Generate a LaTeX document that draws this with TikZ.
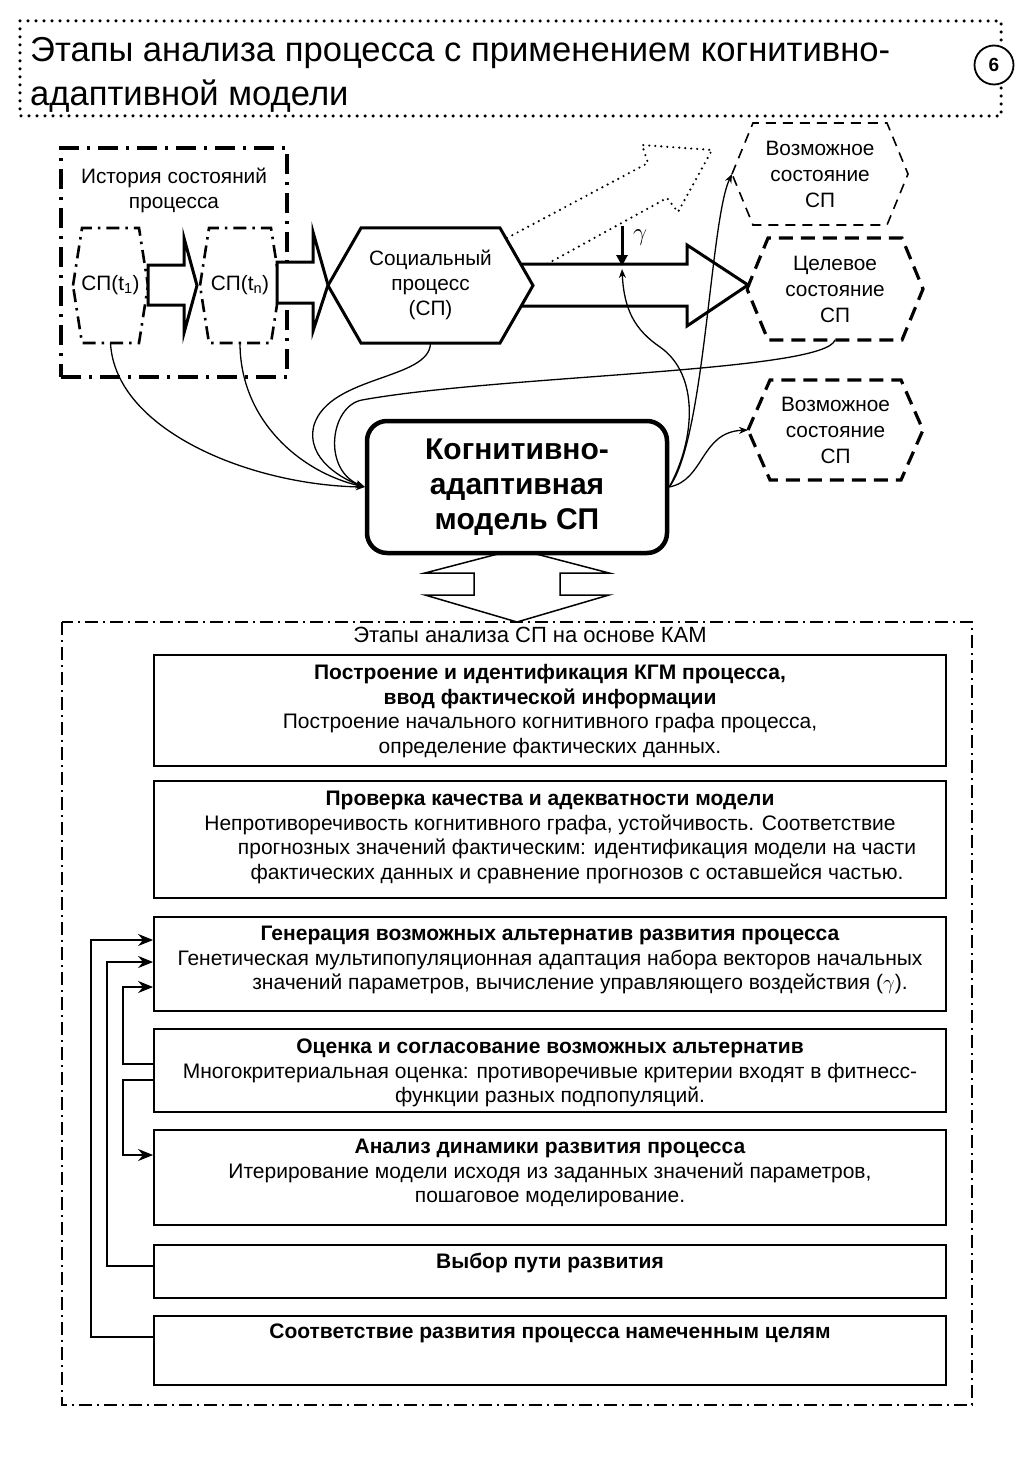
\documentclass[tikz,border=0pt]{standalone}
\usepackage{fontspec}
\setmainfont{Liberation Sans}
\usetikzlibrary{arrows.meta, positioning}

% hexagon drawn round a node: west and east are the tips
\newcommand{\hexpath}[2]{(#1.west) -- ([xshift=#2]#1.north west) -- ([xshift=-#2]#1.north east) -- (#1.east) -- ([xshift=-#2]#1.south east) -- ([xshift=#2]#1.south west) -- cycle}

\tikzset{
  lbl/.style={font=\fontsize{20.8}{25}\selectfont, align=center, inner sep=0pt, outer sep=0pt},
  hexnode/.style={lbl, minimum height=#1},
  statenode/.style={hexnode=#1, font=\fontsize{20.8}{26}\selectfont},
  titledots/.style={line width=3.5pt, line cap=round, dash pattern=on 0pt off 8pt},
  dashdotbig/.style={line width=3.3pt, dash pattern=on 20pt off 8pt on 3pt off 8pt},
  dashdotmid/.style={line width=2.6pt, dash pattern=on 13pt off 6pt on 2.5pt off 6pt},
  dashdotthin/.style={line width=1.4pt, dash pattern=on 13pt off 5pt on 2pt off 5pt},
  dashthin/.style={line width=1.6pt, dash pattern=on 10pt off 7pt},
  dashthick/.style={line width=3.2pt, dash pattern=on 14pt off 8pt},
  dotline/.style={line width=2.4pt, line cap=round, dash pattern=on 0pt off 6pt},
  blockarrow/.style={line width=3pt, fill=white, line join=miter},
  link/.style={line width=1.3pt, -{Stealth[length=9pt,width=7pt]}},
  fb/.style={line width=1.7pt, -{Stealth[length=15pt,width=12pt]}},
  gam/.style={line width=3pt, -{Triangle[length=11pt,width=11pt]}},
  stage/.style={draw, line width=1.8pt, minimum width=792pt, inner sep=0pt},
  stagetxt/.style={font=\fontsize{21}{24.5}\selectfont, align=center, inner sep=0pt}
}

\begin{document}
\begin{tikzpicture}[x=1pt, y=-1pt, >=Stealth]
\useasboundingbox (0,0) rectangle (1024,1479);

% title
\draw[titledots] (20,21) rectangle (1001,116);
\node[anchor=north west, align=left, inner sep=0pt, font=\fontsize{34.6}{44}\selectfont] (ttl) at (30,37)
  {Этапы анализа процесса с применением когнитивно-\\адаптивной модели};
\node[circle, draw, fill=white, line width=1.8pt, minimum size=39pt, inner sep=0pt,
  font=\bfseries\fontsize{19}{19}\selectfont] (num) at (994,65) {6};

% history of states
\node[draw, dashdotbig, minimum width=226pt, minimum height=229pt] (hist) at (174,262.5) {};
\node[lbl, below=22pt of hist.north] (histlbl) {История состояний\\процесса};
\node[hexnode=115pt, minimum width=75pt] (t1) at (110.5,285.5) {СП(t\textsubscript{1})};
\node[hexnode=115pt, minimum width=80pt] (tn) at (240,285.5) {СП(t\textsubscript{n})};
\draw[dashdotmid] \hexpath{t1}{9pt};
\draw[dashdotmid] \hexpath{tn}{9pt};

% social process and states
\node[hexnode=115pt, minimum width=205pt, text depth=6pt] (sp) at (430.5,285.5) {Социальный\\процесс\\(СП)};
\draw[line width=3pt] \hexpath{sp}{33pt};
\node[statenode=102pt, minimum width=176pt] (pos1) at (820,174) {Возможное\\состояние\\СП};
\draw[dashthin] \hexpath{pos1}{21pt};
\node[statenode=102pt, minimum width=176pt] (goal) at (835,289) {Целевое\\состояние\\СП};
\draw[dashthick] \hexpath{goal}{21pt};
\node[statenode=100pt, minimum width=175pt] (pos2) at (835.5,430) {Возможное\\состояние\\СП};
\draw[dashthick] \hexpath{pos2}{22pt};

% block arrows
\draw[blockarrow] (148,265) -- (184,265) -- (184,238) -- (197,285.5) -- (184,333) -- (184,305) -- (148,305) -- cycle;
\draw[blockarrow] (277,262) -- (313,262) -- (313,232) -- (328,285) -- (313,331) -- (313,303) -- (277,303) -- cycle;
\draw[line width=3pt, line join=miter] (521,264) -- (687,264) -- (687,245) -- (748,285) -- (687,326) -- (687,306) -- (522,306);
\draw[dotline] (507,238) -- (648,163) -- (642,145) -- (712,150) -- (678,212) -- (667,198) -- (547,264);

% control input
\coordinate (gtop) at (622,226);
\coordinate (gbot) at (622,266);
\coordinate (gpt) at (622,269);
\draw[gam] (gtop) -- (gbot);
\node[font=\fontsize{26}{26}\selectfont, inner sep=0pt] (glbl) at (640,238) {$\gamma$};

% model
\draw[line width=1.5pt, fill=white] (517,549) -- (609,573) -- (560,573) -- (560,595) -- (609,595) -- (517,622) -- (425,595) -- (474,595) -- (474,573) -- (425,573) -- cycle;
\node[draw, line width=4.5pt, rounded corners=20pt, fill=white, minimum width=300pt, minimum height=132pt,
  align=center, font=\bfseries\fontsize{30}{35}\selectfont] (model) at (517,487) {Когнитивно-\\адаптивная\\модель СП};

\draw[link] (t1.south) .. controls (115,430) and (250,485) .. (model.west);
\draw[link] (tn.south) .. controls (240,420) and (300,472) .. (model.west);
\draw[link] (sp.south) .. controls (430,380) and (330,375) .. (314,425) .. controls (305,460) and (345,480) .. (model.west);
\draw[link] (goal.south) .. controls (825,372) and (500,375) .. (362,400) .. controls (330,406) and (322,470) .. (model.west);
\draw[link] (model.east) .. controls (695,440) and (700,375) .. (660,347) .. controls (635,330) and (624,310) .. (gpt);
\draw[link] (model.east) .. controls (705,440) and (710,220) .. (pos1.west);
\draw[link] (model.east) .. controls (705,480) and (700,432) .. (pos2.west);

% stages of analysis
\draw[dashdotthin] (62,622) rectangle (972,1405);
\node[lbl, font=\fontsize{22}{25}\selectfont] (kamlbl) at (530,635) {Этапы анализа СП на основе КАМ};

\node[stage, minimum height=111pt] (s1) at (550,710.5) {};
\node[stagetxt, below=10pt of s1.north] (s1t) {\textbf{Построение и идентификация КГМ процесса,}\\\textbf{ввод фактической информации}\\Построение начального когнитивного графа процесса,\\определение фактических данных.};
\node[stage, minimum height=117pt] (s2) at (550,839.5) {};
\node[stagetxt, below=11pt of s2.north] (s2t) {\textbf{Проверка качества и адекватности модели}\\Непротиворечивость когнитивного графа, устойчивость. Соответствие\\\hspace*{54pt}прогнозных значений фактическим: идентификация модели на части\\\hspace*{54pt}фактических данных и сравнение прогнозов с оставшейся частью.};
\node[stage, minimum height=94pt] (s3) at (550,964) {};
\node[stagetxt, below=10pt of s3.north] (s3t) {\textbf{Генерация возможных альтернатив развития процесса}\\Генетическая мультипопуляционная адаптация набора векторов начальных\\\hspace*{60pt}значений параметров, вычисление управляющего воздействия ($\gamma$).};
\node[stage, minimum height=83pt] (s4) at (550,1070.5) {};
\node[stagetxt, below=11pt of s4.north] (s4t) {\textbf{Оценка и согласование возможных альтернатив}\\Многокритериальная оценка: противоречивые критерии входят в фитнесс-\\функции разных подпопуляций.};
\node[stage, minimum height=95pt] (s5) at (550,1177.5) {};
\node[stagetxt, below=10pt of s5.north] (s5t) {\textbf{Анализ динамики развития процесса}\\Итерирование модели исходя из заданных значений параметров,\\пошаговое моделирование.};
\node[stage, minimum height=53pt] (s6) at (550,1271.5) {};
\node[stagetxt, below=9pt of s6.north] (s6t) {\textbf{Выбор пути развития}};
\node[stage, minimum height=69pt] (s7) at (550,1350.5) {};
\node[stagetxt, below=9pt of s7.north] (s7t) {\textbf{Соответствие развития процесса намеченным целям}};

% feedback
\draw[fb] ([yshift=13.5pt]s7.west) -- ++(-62,0) |- ([yshift=24pt]s3.west);
\draw[fb] ([yshift=5.5pt]s6.west) -- ++(-46,0) |- ([yshift=2pt]s3.west);
\draw[fb] ([yshift=6.5pt]s4.west) -- ++(-30,0) |- ([yshift=-23pt]s3.west);
\draw[fb] ([yshift=-9.5pt]s4.west) -- ++(-30,0) |- ([yshift=22.5pt]s5.west);
\end{tikzpicture}
\end{document}
